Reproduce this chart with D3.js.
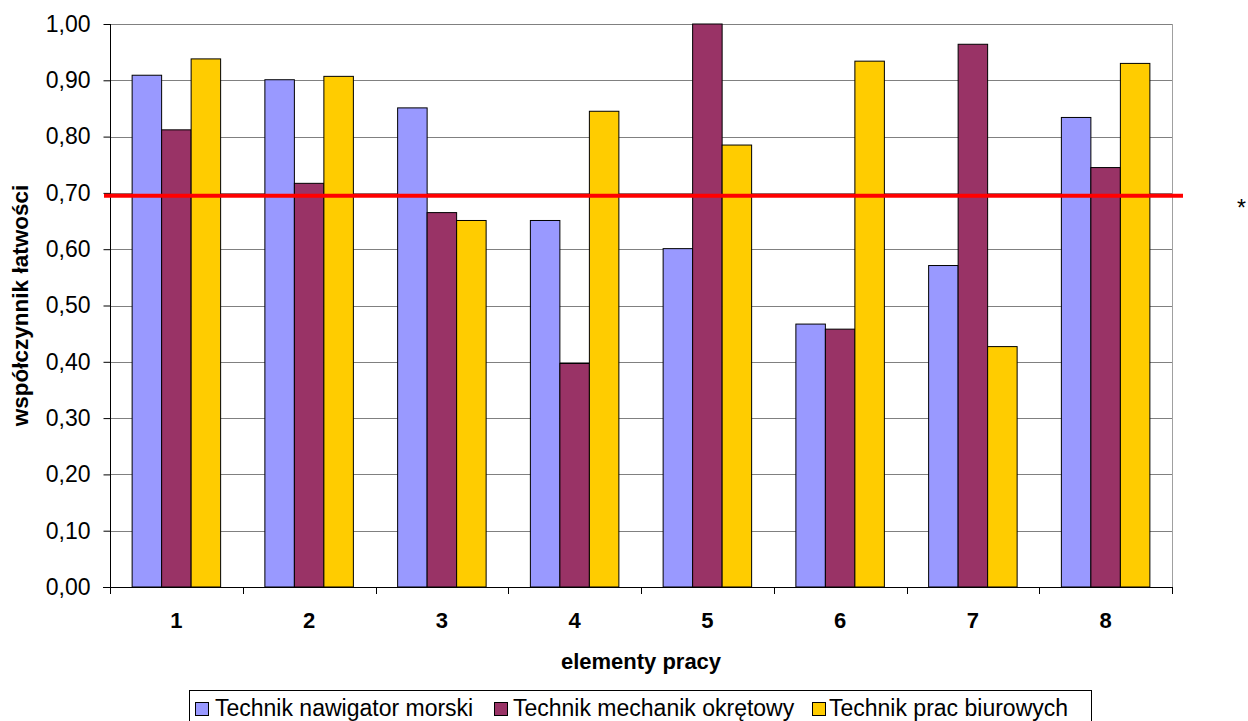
<!DOCTYPE html>
<html>
<head>
<meta charset="utf-8">
<script src="https://cdn.jsdelivr.net/npm/d3@7"></script>
<style>
body{margin:0;background:#fff;overflow:hidden;}
svg{font-family:"Liberation Sans",Arial,sans-serif;display:block;}
</style>
</head>
<body>
<svg id="chart" width="1248" height="721"></svg>
<script>
const categories = ["1","2","3","4","5","6","7","8"];
const seriesNames = ["Technik nawigator morski","Technik mechanik okrętowy","Technik prac biurowych"];
const nawigator = [0.909,0.901,0.851,0.651,0.601,0.467,0.571,0.834];
const mechanik  = [0.812,0.717,0.665,0.397,1.000,0.458,0.964,0.745];
const biurowe   = [0.938,0.907,0.651,0.845,0.785,0.934,0.427,0.930];
const yTicks = [0,0.1,0.2,0.3,0.4,0.5,0.6,0.7,0.8,0.9,1.0];
const threshold = 0.695;
const colors = ["#9999FF","#993366","#FFCC00"];

const svg = d3.select("#chart");
const m = {left:110, right:1172, top:24, bottom:587};
const x = d3.scaleBand().domain(categories).range([m.left,m.right]).paddingInner(0).paddingOuter(0);
const y = d3.scaleLinear().domain([0,1]).range([m.bottom,m.top]);
const xs = d3.scaleBand().domain(d3.range(3)).range([0,x.bandwidth()]).paddingInner(0).paddingOuter(0.75);

// gridlines
svg.append("g").selectAll("line").data(yTicks.slice(1)).join("line")
  .attr("x1",m.left).attr("x2",m.right)
  .attr("y1",d=>Math.round(y(d))+0.5).attr("y2",d=>Math.round(y(d))+0.5)
  .attr("stroke","#808080").attr("stroke-width",1);
// right border
svg.append("line").attr("x1",m.right+0.5).attr("x2",m.right+0.5).attr("y1",m.top).attr("y2",m.bottom)
  .attr("stroke","#a0a0a0");

// bars
const data = [nawigator,mechanik,biurowe];
data.forEach((vals,si)=>{
  svg.append("g").selectAll("rect").data(vals).join("rect")
    .attr("x",(d,i)=>x(categories[i])+xs(si))
    .attr("y",d=>y(d))
    .attr("width",xs.bandwidth())
    .attr("height",d=>m.bottom-y(d))
    .attr("fill",colors[si]).attr("stroke","#000").attr("stroke-width",1);
});

// y axis
const ya = svg.append("g").attr("transform",`translate(${m.left+0.5},0)`)
  .call(d3.axisLeft(y).tickValues(yTicks).tickSize(7).tickPadding(13)
    .tickFormat(d=>d3.format(".2f")(d).replace(".",",")));
ya.select(".domain").attr("stroke","#000").attr("d",`M-0,${m.top}V${m.bottom}`);
ya.selectAll(".tick line").attr("stroke","#000");
ya.selectAll("text").attr("font-size",23).attr("fill","#000").attr("font-family","Liberation Sans, Arial");

// x axis
const xa = svg.append("g").attr("transform",`translate(0,${m.bottom})`)
  .call(d3.axisBottom(x).tickSize(0).tickPadding(0));
xa.select(".domain").remove();
xa.selectAll("text").attr("dy",null).attr("y",41).attr("font-size",22).attr("font-weight","bold")
  .attr("fill","#000").attr("font-family","Liberation Sans, Arial");
svg.append("line").attr("x1",m.left-7).attr("x2",m.right).attr("y1",m.bottom+0.5).attr("y2",m.bottom+0.5).attr("stroke","#000");
const bounds = categories.map(c=>x(c)).concat([m.right]);
svg.append("g").selectAll("line").data(bounds).join("line")
  .attr("x1",d=>Math.round(d)+0.5).attr("x2",d=>Math.round(d)+0.5)
  .attr("y1",m.bottom).attr("y2",m.bottom+7).attr("stroke","#000");

// threshold line
svg.append("line").attr("x1",104).attr("x2",1183)
  .attr("y1",y(threshold)).attr("y2",y(threshold))
  .attr("stroke","#FF0000").attr("stroke-width",4);

// asterisk
svg.append("text").attr("x",1237).attr("y",216)
  .attr("font-size",23).text("*");

// axis titles
svg.append("text").attr("x",(m.left+m.right)/2).attr("y",669).attr("text-anchor","middle")
  .attr("font-size",22).attr("font-weight","bold").text("elementy pracy");
svg.append("text").attr("transform",`translate(28,${(m.top+m.bottom)/2}) rotate(-90)`)
  .attr("text-anchor","middle").attr("font-size",22.5).attr("font-weight","bold").text("współczynnik łatwości");

// legend
const lg = svg.append("g");
lg.append("rect").attr("x",189.5).attr("y",690.5).attr("width",902).attr("height",40)
  .attr("fill","#fff").attr("stroke","#000");
const legSq = [195,494,812];
const legTx = [215,513,829];
seriesNames.forEach((n,i)=>{
  lg.append("rect").attr("x",legSq[i]+0.5).attr("y",702.5).attr("width",13).attr("height",13)
    .attr("fill",colors[i]).attr("stroke","#000");
  lg.append("text").attr("x",legTx[i]).attr("y",715.5).attr("font-size",23).text(n);
});
</script>
</body>
</html>
